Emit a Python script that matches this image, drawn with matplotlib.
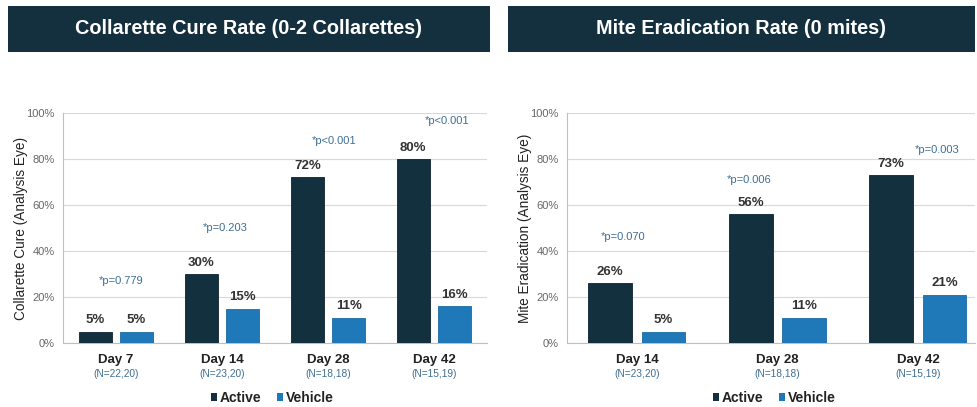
import matplotlib
matplotlib.use("Agg")
import matplotlib.pyplot as plt
from matplotlib.patches import Rectangle, Patch
import numpy as np

plt.rcParams['font.family'] = ['Liberation Sans', 'DejaVu Sans']

# ---- data ----
left_title = "Collarette Cure Rate (0-2 Collarettes)"
left_ylabel = "Collarette Cure (Analysis Eye)"
left_days = ["Day 7", "Day 14", "Day 28", "Day 42"]
left_n = ["(N=22,20)", "(N=23,20)", "(N=18,18)", "(N=15,19)"]
left_active = [5, 30, 72, 80]
left_vehicle = [5, 15, 11, 16]
left_p = ["*p=0.779", "*p=0.203", "*p<0.001", "*p<0.001"]
left_p_y = [27, 50, 88, 96.5]
left_p_dx = [0.05, 0.03, 0.06, 0.12]

right_title = "Mite Eradication Rate (0 mites)"
right_ylabel = "Mite Eradication (Analysis Eye)"
right_days = ["Day 14", "Day 28", "Day 42"]
right_n = ["(N=23,20)", "(N=18,18)", "(N=15,19)"]
right_active = [26, 56, 73]
right_vehicle = [5, 11, 21]
right_p = ["*p=0.070", "*p=0.006", "*p=0.003"]
right_p_y = [46, 71, 84]
right_p_dx = [-0.1, -0.2, 0.135]

series_names = ["Active", "Vehicle"]
yticks = [0, 20, 40, 60, 80, 100]
ytick_labels = ["0%", "20%", "40%", "60%", "80%", "100%"]

# ---- style ----
C_ACTIVE = "#13303F"
C_VEH = "#1F78B7"
C_BANNER = "#14303F"
C_P = "#3E6F94"
C_GRID = "#D9D9D9"

W, H = 978, 407
fig = plt.figure(figsize=(W / 100, H / 100), dpi=100)


def px(x0, y0, x1, y1):
    return [x0 / W, 1 - y1 / H, (x1 - x0) / W, (y1 - y0) / H]


def banner(x0, x1, text):
    r = Rectangle((x0 / W, 1 - 52 / H), (x1 - x0) / W, 46 / H,
                  transform=fig.transFigure, facecolor=C_BANNER,
                  edgecolor="none", zorder=0)
    fig.patches.append(r)
    fig.text((x0 + x1) / 2 / W, 1 - 29 / H, text, color="white",
             fontsize=14.3, fontweight="bold", ha="center", va="center")


def panel(rect, days, nlab, act, veh, pvals, py, pdx, ylabel, xlim, width, off):
    ax = fig.add_axes(rect)
    x = np.arange(len(days))
    ax.bar(x - off, act, width, color=C_ACTIVE, zorder=3,
           edgecolor="#0c2230", linewidth=0.6)
    ax.bar(x + off, veh, width, color=C_VEH, zorder=3,
           edgecolor="#1a6aa3", linewidth=0.6)
    for xi, v in zip(x, act):
        ax.text(xi - off, v + 2.3, f"{v}%", ha="center", va="bottom",
                fontsize=9.5, fontweight="bold", color="#333333")
    for xi, v in zip(x, veh):
        ax.text(xi + off, v + 2.3, f"{v}%", ha="center", va="bottom",
                fontsize=9.5, fontweight="bold", color="#333333")
    for xi, t, yy, dx in zip(x, pvals, py, pdx):
        ax.text(xi + dx, yy, t, ha="center", va="center", fontsize=8,
                color=C_P)
    tr = ax.get_xaxis_transform()
    for xi, d, n in zip(x, days, nlab):
        ax.text(xi, -0.074, d, transform=tr, ha="center", va="center",
                fontsize=9.5, fontweight="bold", color="#222222")
        ax.text(xi, -0.135, n, transform=tr, ha="center", va="center",
                fontsize=7.3, color=C_P)
    ax.set_ylim(0, 100)
    ax.set_xlim(*xlim)
    ax.set_yticks(yticks)
    ax.set_yticklabels(ytick_labels, fontsize=8, color="#666666")
    ax.set_xticks([])
    ax.tick_params(axis="y", length=0, pad=6)
    ax.grid(axis="y", color=C_GRID, linewidth=0.8, zorder=0)
    for s in ["top", "right"]:
        ax.spines[s].set_visible(False)
    ax.spines["left"].set_color("#BFBFBF")
    ax.spines["bottom"].set_color("#BFBFBF")
    ax.spines["left"].set_linewidth(0.8)
    ax.spines["bottom"].set_linewidth(0.8)
    ax.set_ylabel(ylabel, fontsize=9.8, color="#222222", labelpad=-1.5)
    return ax


banner(8, 490, left_title)
banner(508, 975, right_title)

panel(px(63, 113, 487, 343), left_days, left_n, left_active, left_vehicle,
      left_p, left_p_y, left_p_dx, left_ylabel, (-0.5, 3.5), 0.31, 0.195)
panel(px(567, 113, 975, 343), right_days, right_n, right_active,
      right_vehicle, right_p, right_p_y, right_p_dx, right_ylabel,
      (-0.498, 2.406), 0.31, 0.19)

handles = [Patch(facecolor=C_ACTIVE), Patch(facecolor=C_VEH)]
for cx in [272, 774]:
    fig.legend(handles, series_names, loc="center", ncol=2,
               bbox_to_anchor=(cx / W, 1 - 398 / H), frameon=False,
               prop={"size": 10, "weight": "bold"}, handlelength=0.45,
               handleheight=0.45, handletextpad=0.2, columnspacing=1.1,
               labelcolor="#222222")

fig.savefig("out.png", dpi=100)
